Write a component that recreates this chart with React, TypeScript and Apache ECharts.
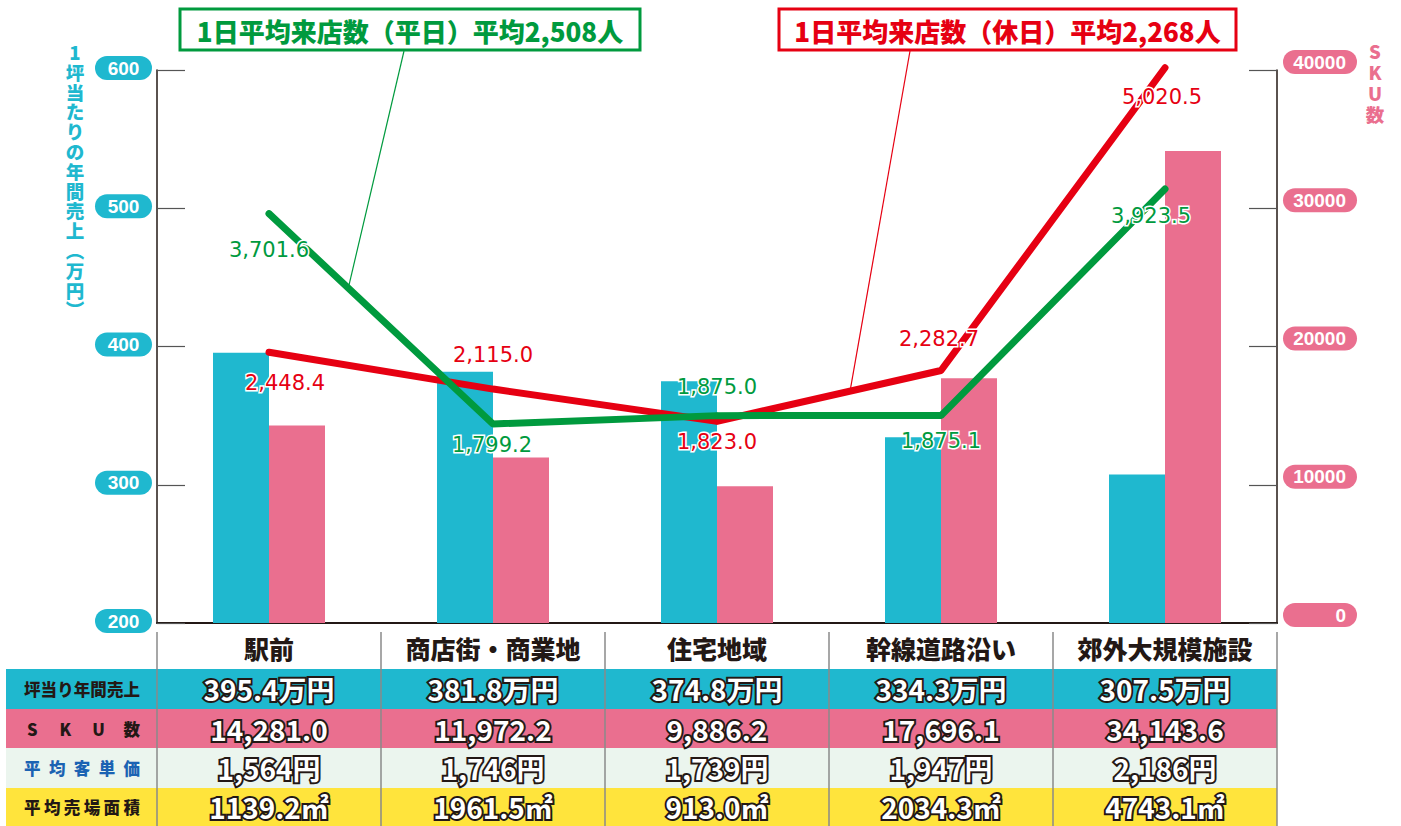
import React, { useEffect, useRef } from 'react';
import * as echarts from 'echarts';

const categories = ['駅前', '商店街・商業地', '住宅地域', '幹線道路沿い', '郊外大規模施設'];
const salesPerTsubo = [395.4, 381.8, 374.8, 334.3, 307.5];
const skuCount = [14281.0, 11972.2, 9886.2, 17696.1, 34143.6];
const weekdayVisitors = [3701.6, 1799.2, 1875.0, 1875.1, 3923.5];
const holidayVisitors = [2448.4, 2115.0, 1823.0, 2282.7, 5020.5];
const avgSpend = [1564, 1746, 1739, 1947, 2186];
const avgArea = [1139.2, 1961.5, 913.0, 2034.3, 4743.1];
const weekdayAverage = 2508;
const holidayAverage = 2268;
const rowLabels = ['坪当り年間売上', 'SKU数', '平均客単価', '平均売場面積'];
const leftAxisName = ['1', '坪', '当', 'た', 'り', 'の', '年', '間', '売', '上', '︵', '万', '円', '︶'];
const rightAxisName = ['S', 'K', 'U', '数'];

const CYAN = '#1fb8cf';
const PINK = '#ea6f8f';
const GREEN = '#009a3e';
const RED = '#e60012';
const DARK = '#231815';
const JP = '"Noto Sans CJK JP", "Noto Sans", sans-serif';

const weekdayLabelOffsets = [[0, 36], [-1, 21], [0, -29], [0, 25], [-14, 27]];
const holidayLabelOffsets = [[16, 31], [0, -34], [0, 21], [-2, -32], [-3, 29]];

const fmt1 = (v: number) => v.toLocaleString('en-US', { minimumFractionDigits: 1, maximumFractionDigits: 1 });

export default function App() {
  const ref = useRef<HTMLDivElement>(null);
  useEffect(() => {
    const chart = echarts.init(ref.current!, null, { renderer: 'svg' });
    const lineLabel = (color: string) => ({
      show: true,
      position: 'inside',
      formatter: (p: any) => fmt1(p.value),
      color,
      fontSize: 21,
      fontFamily: '"DejaVu Sans", sans-serif',
      textBorderColor: '#fff',
      textBorderWidth: 3,
    });
    const option: any = {
      animation: false,
      grid: { left: 157, right: 124, top: 70, bottom: 203 },
      xAxis: {
        type: 'category',
        data: categories,
        axisLine: { lineStyle: { color: DARK, width: 2 } },
        axisTick: { show: false },
        axisLabel: { interval: 0, color: DARK, fontSize: 25, fontWeight: 900, fontFamily: JP, margin: 12 },
      },
      yAxis: [
        {
          type: 'value', min: 200, max: 600, interval: 100, position: 'left',
          splitLine: { show: false },
          axisLine: { show: true, lineStyle: { color: DARK, width: 1.5 } },
          axisTick: { show: true, inside: true, length: 28, lineStyle: { color: '#555', width: 1.2 } },
          axisLabel: {
            margin: 5,
            formatter: (v: number) => `{a|${v}}`,
            padding: [0, 0, 4, 0],
            rich: {
              a: {
                width: 57, height: 24, lineHeight: 24, align: 'center',
                backgroundColor: CYAN, borderRadius: 12, color: '#fff',
                fontSize: 19, fontWeight: 'bold', fontFamily: '"Liberation Sans", Arial, sans-serif',
              },
            },
          },
        },
        {
          type: 'value', min: 0, max: 40000, interval: 10000, position: 'right',
          splitLine: { show: false },
          axisLine: { show: true, lineStyle: { color: DARK, width: 1.5 } },
          axisTick: { show: true, inside: true, length: 28, lineStyle: { color: '#555', width: 1.2 } },
          axisLabel: {
            margin: 6,
            formatter: (v: number) => `{a|${v}}`,
            padding: [0, 0, 16, 0],
            rich: {
              a: {
                width: 63, height: 24, lineHeight: 24, align: 'right', padding: [0, 11, 0, 0],
                backgroundColor: PINK, borderRadius: 12, color: '#fff',
                fontSize: 19, fontWeight: 'bold', fontFamily: '"Liberation Sans", Arial, sans-serif',
              },
            },
          },
        },
        { type: 'value', min: 0, max: 5000, show: false },
      ],
      series: [
        {
          name: '坪当り年間売上', type: 'bar', data: salesPerTsubo, yAxisIndex: 0,
          barWidth: 56, barGap: '0%', itemStyle: { color: CYAN },
        },
        {
          name: 'SKU数', type: 'bar', data: skuCount, yAxisIndex: 1,
          barWidth: 56, barGap: '0%', itemStyle: { color: PINK },
        },
        {
          name: '1日平均来店数（休日）', type: 'line', yAxisIndex: 2, clip: false,
          data: holidayVisitors.map((v, i) => ({ value: v, label: { offset: holidayLabelOffsets[i] } })),
          symbol: 'circle', symbolSize: 6, itemStyle: { color: RED, borderWidth: 0 },
          lineStyle: { color: RED, width: 7, cap: 'round' },
          label: lineLabel(RED), z: 3,
        },
        {
          name: '1日平均来店数（平日）', type: 'line', yAxisIndex: 2, clip: false,
          data: weekdayVisitors.map((v, i) => ({ value: v, label: { offset: weekdayLabelOffsets[i] } })),
          symbol: 'circle', symbolSize: 6, itemStyle: { color: GREEN, borderWidth: 0 },
          lineStyle: { color: GREEN, width: 7, cap: 'round' },
          label: lineLabel(GREEN), z: 4,
        },
      ],
    };
    chart.setOption(option);

    const cx = categories.map((_, i) => chart.convertToPixel({ xAxisIndex: 0 }, i) as number);
    const band = cx[1] - cx[0];
    const yV = (v: number) => chart.convertToPixel({ yAxisIndex: 2 }, v) as number;
    const interp = (vals: number[], i: number, t: number) => [
      cx[i] + (cx[i + 1] - cx[i]) * t,
      yV(vals[i]) + (yV(vals[i + 1]) - yV(vals[i])) * t,
    ];

    const els: any[] = [];
    // legend boxes
    const boxes = [
      { x: 180, w: 460, color: GREEN, text: `1日平均来店数（平日）平均${weekdayAverage.toLocaleString('en-US')}人`, tip: interp(weekdayVisitors, 0, 0.354), fromX: 404 },
      { x: 779, w: 457, color: RED, text: `1日平均来店数（休日）平均${holidayAverage.toLocaleString('en-US')}人`, tip: interp(holidayVisitors, 2, 0.594), fromX: 910 },
    ];
    boxes.forEach((b) => {
      els.push({ type: 'line', shape: { x1: b.fromX, y1: 51, x2: b.tip[0], y2: b.tip[1] }, style: { stroke: b.color, lineWidth: 1.2 }, z: 10 });
      els.push({ type: 'rect', shape: { x: b.x, y: 9, width: b.w, height: 41 }, style: { fill: '#fff', stroke: b.color, lineWidth: 3 }, z: 11 });
      els.push({ type: 'text', style: { x: b.x + b.w / 2, y: 30, text: b.text, fill: b.color, font: `900 26px ${JP}`, textAlign: 'center', textVerticalAlign: 'middle' }, z: 12 });
    });
    // axis names
    leftAxisName.forEach((c, k) => {
      els.push({ type: 'text', style: { x: 75, y: 52 + k * 19.8, text: c, fill: CYAN, font: `900 18.5px ${JP}`, lineHeight: 19, textAlign: 'center', textVerticalAlign: 'middle' } });
    });
    rightAxisName.forEach((c, k) => {
      els.push({ type: 'text', style: { x: 1375, y: 51 + k * 21, text: c, fill: PINK, font: `900 18.5px ${JP}`, lineHeight: 19, textAlign: 'center', textVerticalAlign: 'middle' } });
    });

    // table
    const rowTops = [669, 709, 748, 788, 826];
    const rowFills = [CYAN, PINK, '#ebf5ee', '#ffe43c'];
    const rowLabelColors = [DARK, DARK, '#1b63b3', DARK];
    const left = cx[0] - band / 2;
    const right = cx[cx.length - 1] + band / 2;
    const rowValues = [
      salesPerTsubo.map((v) => `${v.toFixed(1)}万円`),
      skuCount.map((v) => fmt1(v)),
      avgSpend.map((v) => `${v.toLocaleString('en-US')}円`),
      avgArea.map((v) => `${v.toFixed(1)}㎡`),
    ];
    rowFills.forEach((f, r) => {
      const top = rowTops[r];
      const h = rowTops[r + 1] - top;
      els.push({ type: 'rect', shape: { x: 6, y: top, width: right - 6, height: h }, style: { fill: f }, z: 1 });
      const chars = Array.from(rowLabels[r]);
      const fs = 16.5;
      const lx0 = 24 + fs / 2;
      const lx1 = 140 - fs / 2;
      chars.forEach((c, k) => {
        const x = chars.length > 1 ? lx0 + ((lx1 - lx0) * k) / (chars.length - 1) : (lx0 + lx1) / 2;
        els.push({ type: 'text', style: { x, y: top + h / 2, text: c, fill: rowLabelColors[r], font: `900 ${fs}px ${JP}`, textAlign: 'center', textVerticalAlign: 'middle' }, z: 3 });
      });
      rowValues[r].forEach((t, i) => {
        els.push({
          type: 'text',
          style: {
            x: cx[i], y: top + h / 2, text: t, fill: '#fff', stroke: DARK, lineWidth: 4, strokeFirst: true,
            font: `bold 28px ${JP}`, textAlign: 'center', textVerticalAlign: 'middle',
          },
          z: 3,
        });
      });
    });
    for (let i = 0; i <= categories.length; i++) {
      const x = left + band * i;
      els.push({ type: 'line', shape: { x1: x, y1: 632, x2: x, y2: 826 }, style: { stroke: '#8a8a8a', lineWidth: 1.5 }, z: 2 });
    }
    chart.setOption({ graphic: els });
    return () => chart.dispose();
  }, []);
  return <div ref={ref} style={{ position: 'fixed', left: 0, top: 0, width: 1401, height: 826, background: '#fff' }} />;
}
